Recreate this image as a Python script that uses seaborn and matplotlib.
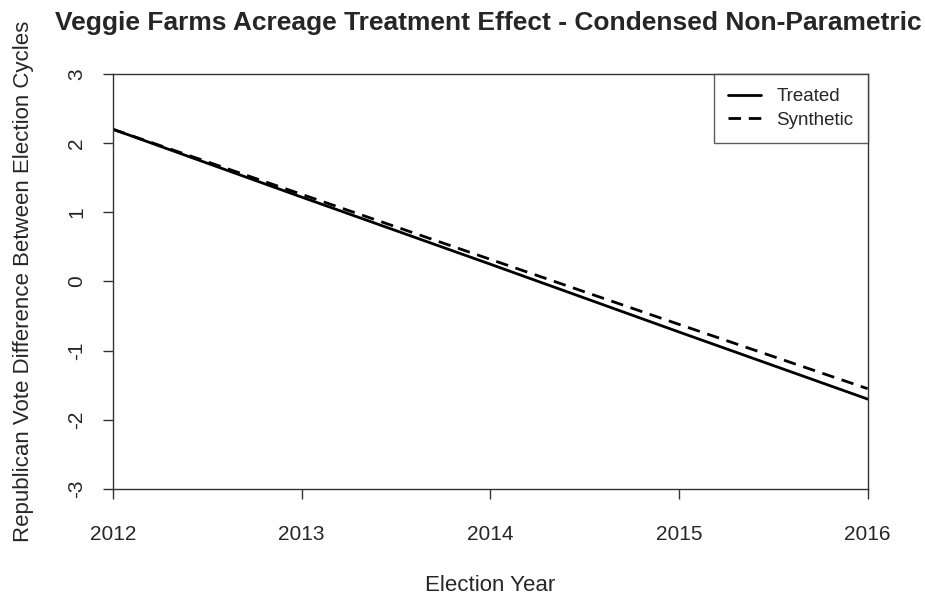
import pandas as pd
import numpy as np
import matplotlib.pyplot as plt
import seaborn as sns
from matplotlib.lines import Line2D

years = [2012, 2013, 2014, 2015, 2016]
treated = [2.2, 1.22, 0.25, -0.73, -1.70]
synthetic = [2.2, 1.26, 0.32, -0.62, -1.55]

df = pd.DataFrame({
    "year": years * 2,
    "value": treated + synthetic,
    "series": ["Treated"] * len(years) + ["Synthetic"] * len(years),
})

sns.set_style("white")
plt.rcParams['font.family'] = ['Liberation Sans', 'DejaVu Sans']
plt.rcParams['axes.unicode_minus'] = False

dash = (4.5, 2.8)
fig = plt.figure(figsize=(9.25, 5.96), dpi=100)
ax = fig.add_axes([0.122, 0.1795, 0.816, 0.6965])
sns.lineplot(data=df, x="year", y="value", style="series", color="black",
             dashes={"Treated": "", "Synthetic": dash}, linewidth=2,
             ax=ax, legend=False)

ax.set_xlim(2012, 2016)
ax.set_ylim(-3, 3)
ax.set_xticks(years)
ax.set_yticks(range(-3, 4))
ax.tick_params(axis='both', direction='out', length=7, width=1, labelsize=15,
               bottom=True, left=True, color='#333333')
ax.tick_params(axis='x', pad=19)
ax.tick_params(axis='y', pad=12)
for lab in ax.get_yticklabels():
    lab.set_rotation(90)
    lab.set_va('center')
for s in ax.spines.values():
    s.set_color('#333333')
    s.set_linewidth(1)

ax.set_xlabel("Election Year", fontsize=16, labelpad=22)
ax.set_ylabel("Republican Vote Difference Between Election Cycles", fontsize=16, labelpad=24)
fig.text(0.528, 0.962, "Veggie Farms Acreage Treatment Effect - Condensed Non-Parametric",
         fontsize=19, fontweight='bold', ha='center', va='center')

handles = [Line2D([], [], color='black', lw=2),
           Line2D([], [], color='black', lw=2, dashes=dash)]
leg = ax.legend(handles, ["Treated", "Synthetic"], loc='upper right', fontsize=13.5,
                frameon=True, fancybox=False, borderaxespad=0, handlelength=1.8,
                handletextpad=0.8, labelspacing=0.35, borderpad=0.75)
leg.get_frame().set_edgecolor('#333333')
leg.get_frame().set_linewidth(1)

fig.savefig("out.png", dpi=100)
